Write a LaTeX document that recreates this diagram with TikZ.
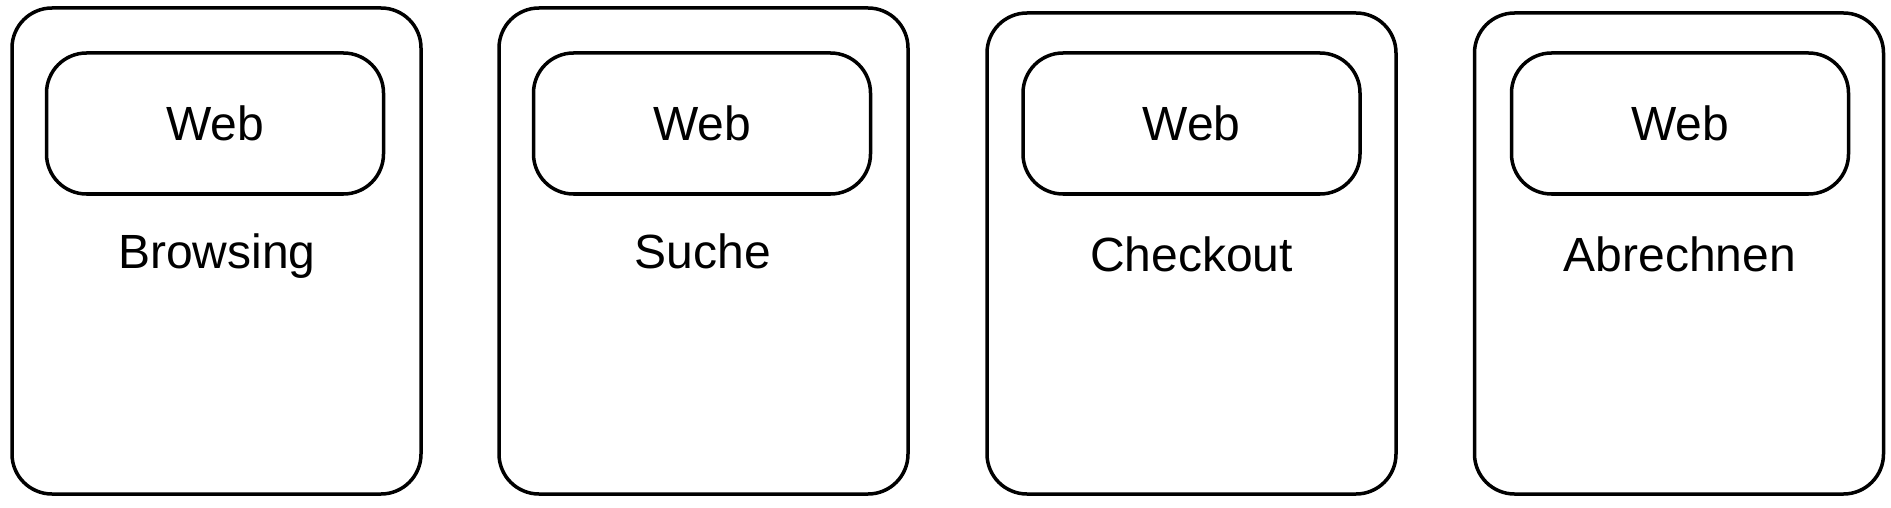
\documentclass[tikz,border=0pt]{standalone}
\usepackage{fontspec}
\setmainfont{Liberation Sans}
\begin{document}
\begin{tikzpicture}[x=1pt,y=-1pt,
  outerbox/.style={draw, line width=3.5pt, rounded corners=40pt, minimum width=409pt, minimum height=#1, inner sep=0pt},
  webbox/.style={draw, line width=3.5pt, rounded corners=40pt, minimum width=337pt, minimum height=141pt, inner sep=0pt, font=\fontsize{48}{56}\selectfont},
  lbl/.style={anchor=base, inner sep=0pt, font=\fontsize{48}{56}\selectfont}]
\useasboundingbox (0,0) rectangle (1891,508);
% containers
\node[outerbox=486pt] (b1) at (216.5,251) {};
\node[outerbox=486pt] (b2) at (703.5,251) {};
\node[outerbox=481pt] (b3) at (1191.5,253.5) {};
\node[outerbox=481pt] (b4) at (1679,253.5) {};
% web boxes
\node[webbox] (w1) at (215,123.5) {Web};
\node[webbox] (w2) at (702,123.5) {Web};
\node[webbox] (w3) at (1191.5,123.5) {Web};
\node[webbox] (w4) at (1680,123.5) {Web};
% labels
\node[lbl] (l1) at (217,268) {Browsing};
\node[lbl] (l2) at (703,268) {Suche};
\node[lbl] (l3) at (1191.5,271) {Checkout};
\node[lbl] (l4) at (1680,271) {Abrechnen};
\end{tikzpicture}
\end{document}
